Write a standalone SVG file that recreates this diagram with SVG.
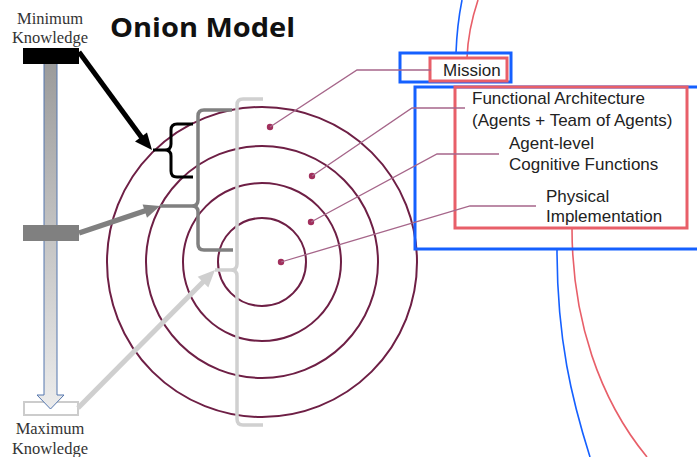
<svg xmlns="http://www.w3.org/2000/svg" width="697" height="457" viewBox="0 0 697 457">
<style>
.ring{fill:none;stroke:#6e1f45;stroke-width:2}
.dot{fill:#a12f5c}
.lead{fill:none;stroke:#a6668a;stroke-width:1.3}
.lbl{font-family:"Liberation Sans",Arial,sans-serif;font-size:17px;fill:#222}
.serif{font-family:"Liberation Serif","Times New Roman",serif;font-size:16.5px;fill:#333;text-anchor:middle}
.blue{fill:none;stroke:#1560ff;stroke-width:3}
.red{fill:none;stroke:#e85f69;stroke-width:3}
.bluec{fill:none;stroke:#1560ff;stroke-width:1.6}
.redc{fill:none;stroke:#e85f69;stroke-width:1.6}
</style>
<defs>
<linearGradient id="shaft" x1="0" y1="0" x2="0" y2="1">
<stop offset="0" stop-color="#9a9a9a"/>
<stop offset="1" stop-color="#ececec"/>
</linearGradient>
</defs>
<rect width="697" height="457" fill="#fff"/>

<g id="title">
<text x="110" y="37" font-family="'Open Sans','Liberation Sans',sans-serif" font-weight="700" font-size="27" textLength="185" lengthAdjust="spacingAndGlyphs" fill="#111">Onion Model</text>
</g>

<g id="rings">
<circle class="ring" cx="262" cy="262" r="155"/>
<circle class="ring" cx="262" cy="262" r="116"/>
<circle class="ring" cx="262" cy="262" r="79"/>
<circle class="ring" cx="262" cy="262" r="44"/>
<circle class="dot" cx="270" cy="127" r="3.2"/>
<circle class="dot" cx="312" cy="176" r="3.2"/>
<circle class="dot" cx="311" cy="222" r="3.2"/>
<circle class="dot" cx="281" cy="262" r="3.2"/>
</g>

<g id="outer-boxes">
<path class="bluec" d="M462,0 Q457,25 456,53"/>
<path class="redc" d="M478,0 Q468,30 467,58"/>
<path class="bluec" d="M557,249 C557,340 572,400 590,457"/>
<path class="redc" d="M572,228 C572,320 600,400 647,457"/>
<rect class="blue" x="400" y="53" width="111" height="29"/>
<rect class="blue" x="415" y="87" width="290" height="162"/>
</g>

<g id="mission">
<rect class="red" x="430" y="58" width="77" height="23"/>
<text class="lbl" x="443" y="75.5">Mission</text>
</g>

<g id="layers">
<rect class="red" x="455" y="87" width="232" height="141"/>
<text class="lbl" x="472" y="104">Functional Architecture</text>
<text class="lbl" x="472" y="125.5">(Agents + Team of Agents)</text>
<text class="lbl" x="509" y="149">Agent-level</text>
<text class="lbl" x="509" y="170">Cognitive Functions</text>
<text class="lbl" x="546" y="202">Physical</text>
<text class="lbl" x="546" y="222">Implementation</text>
</g>

<g id="leaders">
<polyline class="lead" points="270,127 357,70 431,70"/>
<polyline class="lead" points="312,176 412,108 465,108"/>
<polyline class="lead" points="311,222 437,154 499,154"/>
<polyline class="lead" points="281,262 470,206 536,206"/>
</g>

<g id="knowledge-scale">
<rect x="24" y="402" width="54" height="13" fill="#fff" stroke="#cccccc" stroke-width="2"/>
<path d="M44,58 V395 H37 L50.5,409 L64,395 H57 V58 Z" fill="url(#shaft)" stroke="#5476ae" stroke-width="1"/>
<rect x="23" y="48" width="56" height="16" fill="#000"/>
<rect x="23" y="225" width="56" height="16" fill="#808080"/>
<text class="serif" x="50" y="24">Minimum</text>
<text class="serif" x="50" y="42.5">Knowledge</text>
<text class="serif" x="50" y="434" font-size="17">Maximum</text>
<text class="serif" x="50" y="454" font-size="17">Knowledge</text>
</g>

<g id="braces">
<path d="M193,124 H177 Q171,124 171,130 V144 Q171,150 165,150 H153 M165,150 Q171,150 171,156 V171 Q171,177 177,177 H193" fill="none" stroke="#000" stroke-width="3"/>
<path d="M232,110 H204 Q198,110 198,116 V200 Q198,206 192,206 H160 M192,206 Q198,206 198,212 V244 Q198,250 204,250 H233" fill="none" stroke="#808080" stroke-width="3.5"/>
<path d="M263,99 H243 Q237,99 237,105 V264 Q237,270 231,270 H215 M231,270 Q237,270 237,276 V419 Q237,425 243,425 H263" fill="none" stroke="#d0d0d0" stroke-width="3.5"/>
</g>

<g id="connectors">
<line x1="79" y1="52" x2="142" y2="138" stroke="#000" stroke-width="5"/>
<polygon points="152,150 135,141.5 147,132.5" fill="#000"/>
<line x1="79" y1="233" x2="146" y2="210.5" stroke="#808080" stroke-width="5.5"/>
<polygon points="160,206 147,217.7 142.6,204.4" fill="#808080"/>
<line x1="78" y1="408" x2="204" y2="281" stroke="#cfcfcf" stroke-width="5"/>
<polygon points="215,270 208.3,287.4 197.7,276.8" fill="#cfcfcf"/>
</g>
</svg>
